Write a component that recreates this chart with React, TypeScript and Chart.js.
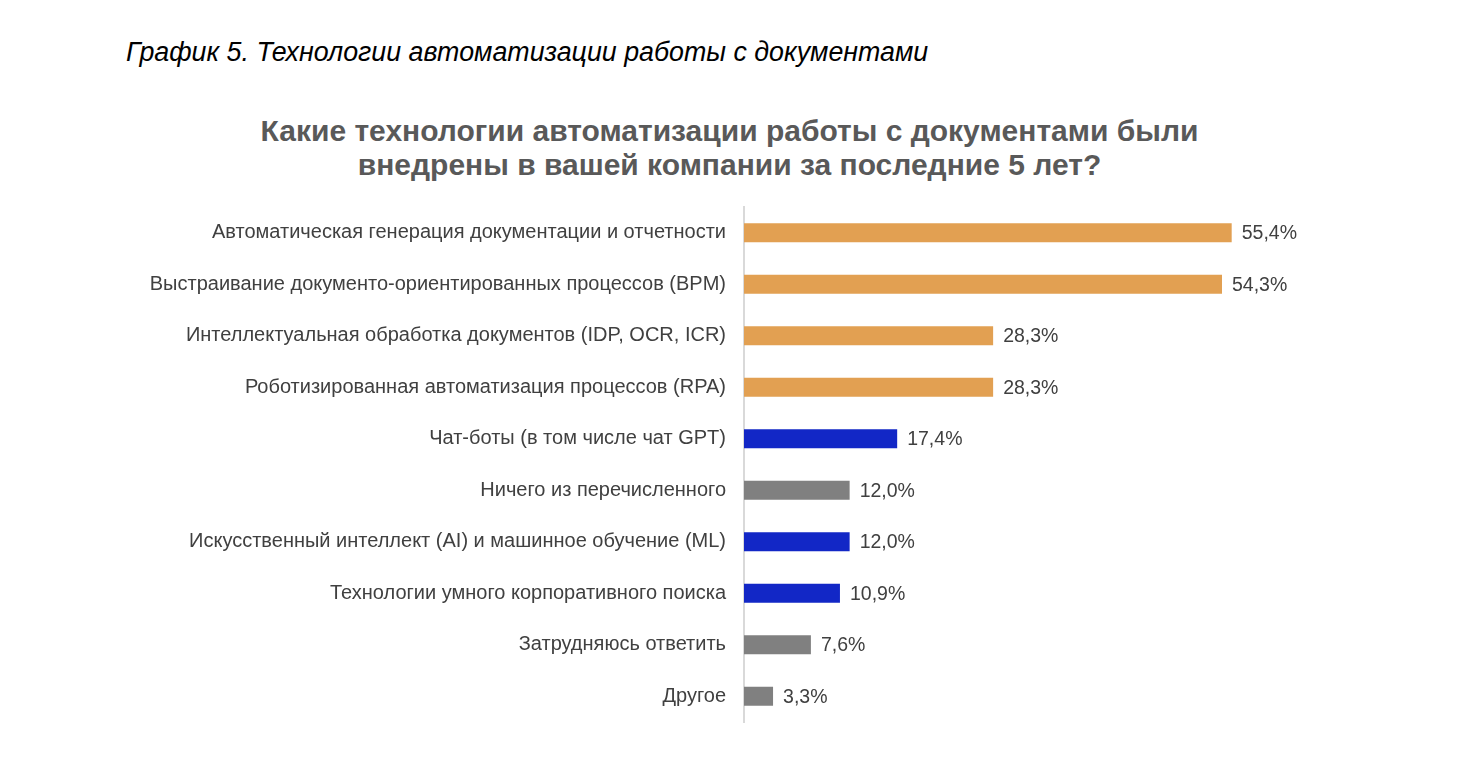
import React, { useEffect, useRef } from "react";
import { Chart, registerables } from "chart.js";

Chart.register(...registerables);

const categories: string[] = [
  "Автоматическая генерация документации и отчетности",
  "Выстраивание документо-ориентированных процессов (BPM)",
  "Интеллектуальная обработка документов (IDP, OCR, ICR)",
  "Роботизированная автоматизация процессов (RPA)",
  "Чат-боты (в том числе чат GPT)",
  "Ничего из перечисленного",
  "Искусственный интеллект (AI) и машинное обучение (ML)",
  "Технологии умного корпоративного поиска",
  "Затрудняюсь ответить",
  "Другое",
];

const values: number[] = [55.4, 54.3, 28.3, 28.3, 17.4, 12.0, 12.0, 10.9, 7.6, 3.3];

const groups: string[] = [
  "orange", "orange", "orange", "orange", "blue", "gray", "blue", "blue", "gray", "gray",
];

const palette: Record<string, string> = {
  orange: "#E2A052",
  blue: "#1227C6",
  gray: "#808080",
};

const headerText = "График 5. Технологии автоматизации работы с документами";
const titleLines: string[] = [
  "Какие технологии автоматизации работы с документами были",
  "внедрены в вашей компании за последние 5 лет?",
];

const FONT = "'Liberation Sans', Arial, Helvetica, sans-serif";

const valueLabelPlugin = {
  id: "valueLabels",
  afterDatasetsDraw(chart: any) {
    const ctx = chart.ctx;
    const meta = chart.getDatasetMeta(0);
    ctx.save();
    ctx.font = `19.5px ${FONT}`;
    ctx.fillStyle = "#404040";
    ctx.textAlign = "left";
    ctx.textBaseline = "middle";
    meta.data.forEach((bar: any, i: number) => {
      const txt = values[i].toFixed(1).replace(".", ",") + "%";
      ctx.fillText(txt, bar.x + 10, bar.y + 1);
    });
    ctx.restore();
  },
};

export default function App() {
  const canvasRef = useRef<HTMLCanvasElement | null>(null);

  useEffect(() => {
    if (!canvasRef.current) return;
    const chart = new Chart(canvasRef.current, {
      type: "bar",
      data: {
        labels: categories,
        datasets: [
          {
            data: values,
            backgroundColor: groups.map((g) => palette[g]),
            borderWidth: 0,
            barPercentage: 0.37,
            categoryPercentage: 1,
          },
        ],
      },
      options: {
        indexAxis: "y",
        animation: false,
        responsive: true,
        maintainAspectRatio: false,
        layout: { padding: { top: 199, bottom: 42, left: 0, right: 8.4 } },
        plugins: {
          legend: { display: false },
          title: { display: false },
          tooltip: { enabled: false },
        },
        scales: {
          x: {
            display: false,
            min: 0,
            max: 79.7,
            grid: { display: false },
          },
          y: {
            afterFit: (scale: any) => {
              scale.width = 736;
            },
            grid: { display: false, drawTicks: false },
            border: { display: true, color: "#D9D9D9", width: 2 },
            ticks: {
              padding: 18,
              color: "#404040",
              font: { family: FONT, size: 20 },
            },
          },
        },
      },
      plugins: [valueLabelPlugin],
    });
    return () => chart.destroy();
  }, []);

  return (
    <div style={{ position: "relative", width: 1446, height: 756, background: "#fff" }}>
      <div
        style={{
          position: "absolute",
          left: 118,
          top: 30,
          fontFamily: "'Liberation Sans Narrow', 'Liberation Sans', Arial, sans-serif",
          fontStyle: "italic",
          fontSize: 26.8,
          color: "#000",
          whiteSpace: "nowrap",
          lineHeight: "28px",
        }}
      >
        {headerText}
      </div>
      <div
        style={{
          position: "absolute",
          left: 0,
          width: 1443,
          top: 106,
          textAlign: "center",
          fontFamily: FONT,
          fontWeight: "bold",
          fontSize: 30,
          color: "#595959",
          lineHeight: "34px",
        }}
      >
        {titleLines.map((l, i) => (
          <div key={i}>{l}</div>
        ))}
      </div>
      <canvas ref={canvasRef} style={{ position: "absolute", left: 0, top: 0 }} />
    </div>
  );
}
